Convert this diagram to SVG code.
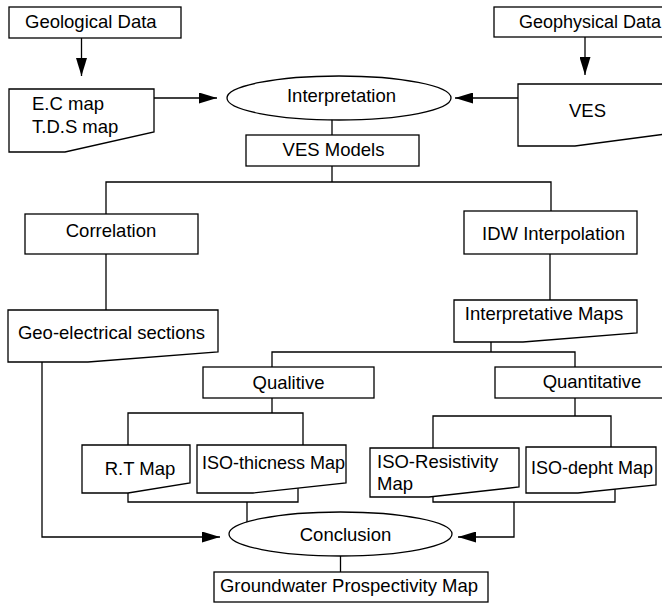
<svg xmlns="http://www.w3.org/2000/svg" width="662" height="603" viewBox="0 0 662 603">
<style>
.n{fill:#fff;stroke:#000;stroke-width:1.3}
.c{fill:none;stroke:#000;stroke-width:1.3}
text{font-family:"Liberation Sans",Arial,sans-serif;font-size:18.5px;fill:#000}
.s{font-size:18px}
.m{text-anchor:middle}
</style>
<defs>
<marker id="ah" markerUnits="userSpaceOnUse" markerWidth="18" markerHeight="11" viewBox="0 0 18 11" refX="18" refY="5.5" orient="auto">
<path d="M0,0 L18,5.5 L0,11 z" fill="#000"/>
</marker>
</defs>
<rect width="662" height="603" fill="#fff"/>
<g id="connectors">
<path class="c" d="M81.5,38 V76" marker-end="url(#ah)"/>
<path class="c" d="M154,98 H217" marker-end="url(#ah)"/>
<path class="c" d="M585,37 V75" marker-end="url(#ah)"/>
<path class="c" d="M518,98 H455" marker-end="url(#ah)"/>
<path class="c" d="M332,115 V135"/>
<path class="c" d="M332,166 V182"/>
<path class="c" d="M106,214 V182 H551 V211"/>
<path class="c" d="M106,254 V310"/>
<path class="c" d="M550,254 V300"/>
<path class="c" d="M491,340 V352"/>
<path class="c" d="M272,367 V352 H575 V367"/>
<path class="c" d="M272,398 V413"/>
<path class="c" d="M128,445 V413 H303 V445"/>
<path class="c" d="M575,398 V416"/>
<path class="c" d="M433,448 V416 H611 V447"/>
<path class="c" d="M128,490 V502 H298 V485"/>
<path class="c" d="M247,502 V525"/>
<path class="c" d="M433,492 V502 H615 V485"/>
<path class="c" d="M514,502 V537 H458" marker-end="url(#ah)"/>
<path class="c" d="M42,360 V537 H220" marker-end="url(#ah)"/>
<path class="c" d="M340.5,550 V572"/>
</g>
<g id="geological">
<rect class="n" x="9" y="7" width="172" height="31"/>
<text x="25" y="28">Geological Data</text>
</g>
<g id="geophysical">
<rect class="n" x="494" y="7" width="200" height="30"/>
<text class="s" x="519" y="28">Geophysical Data</text>
</g>
<g id="ecmap">
<path class="n" d="M9,89 H154 V132 L65,152 H9 Z"/>
<text x="32" y="110">E.C map</text>
<text x="32" y="133">T.D.S map</text>
</g>
<g id="ves">
<path class="n" d="M518,84 H666 V134 L575,146 H518 Z"/>
<text x="569" y="117">VES</text>
</g>
<g id="interpretation">
<ellipse class="n" cx="339" cy="98" rx="112" ry="22"/>
<text class="m" x="341.5" y="102">Interpretation</text>
</g>
<g id="vesmodels">
<rect class="n" x="246" y="135" width="173" height="31"/>
<text class="m" x="333.5" y="156">VES Models</text>
</g>
<g id="correlation">
<rect class="n" x="25" y="214" width="173" height="40"/>
<text class="m" x="111" y="237">Correlation</text>
</g>
<g id="idw">
<rect class="n" x="464" y="211" width="173" height="43"/>
<text class="m" x="553.5" y="240">IDW Interpolation</text>
</g>
<g id="geoelectrical">
<path class="n" d="M8,310 H218 V352 L88,362 H8 Z"/>
<text class="m" x="111.5" y="339">Geo-electrical sections</text>
</g>
<g id="interpretativemaps">
<path class="n" d="M454,300 H637 V333 L523,342 H454 Z"/>
<text class="m" x="544" y="320">Interpretative Maps</text>
</g>
<g id="qualitive">
<rect class="n" x="203" y="367" width="171" height="31"/>
<text class="m" x="288.5" y="389">Qualitive</text>
</g>
<g id="quantitative">
<rect class="n" x="495" y="367" width="200" height="31"/>
<text class="m" x="592" y="388">Quantitative</text>
</g>
<g id="rtmap">
<path class="n" d="M82,445 H190 V483 L128,493 H82 Z"/>
<text class="m" x="140" y="475">R.T Map</text>
</g>
<g id="isothicness">
<path class="n" d="M197,445 H346 V483 L253,493 H197 Z"/>
<text class="s" x="202" y="469">ISO-thicness Map</text>
</g>
<g id="isoresistivity">
<path class="n" d="M370,448 H519 V487 L429,497 H370 Z"/>
<text x="377" y="468">ISO-Resistivity</text>
<text x="377" y="490">Map</text>
</g>
<g id="isodepht">
<path class="n" d="M526,447 H656 V485 L578,493 H526 Z"/>
<text class="s" x="531" y="474">ISO-depht Map</text>
</g>
<g id="conclusion">
<ellipse class="n" cx="340.5" cy="534" rx="111.5" ry="22"/>
<text class="m" x="345.5" y="541">Conclusion</text>
</g>
<g id="groundwater">
<rect class="n" x="214" y="572" width="274" height="30"/>
<text class="m" x="349" y="592">Groundwater Prospectivity Map</text>
</g>
</svg>
